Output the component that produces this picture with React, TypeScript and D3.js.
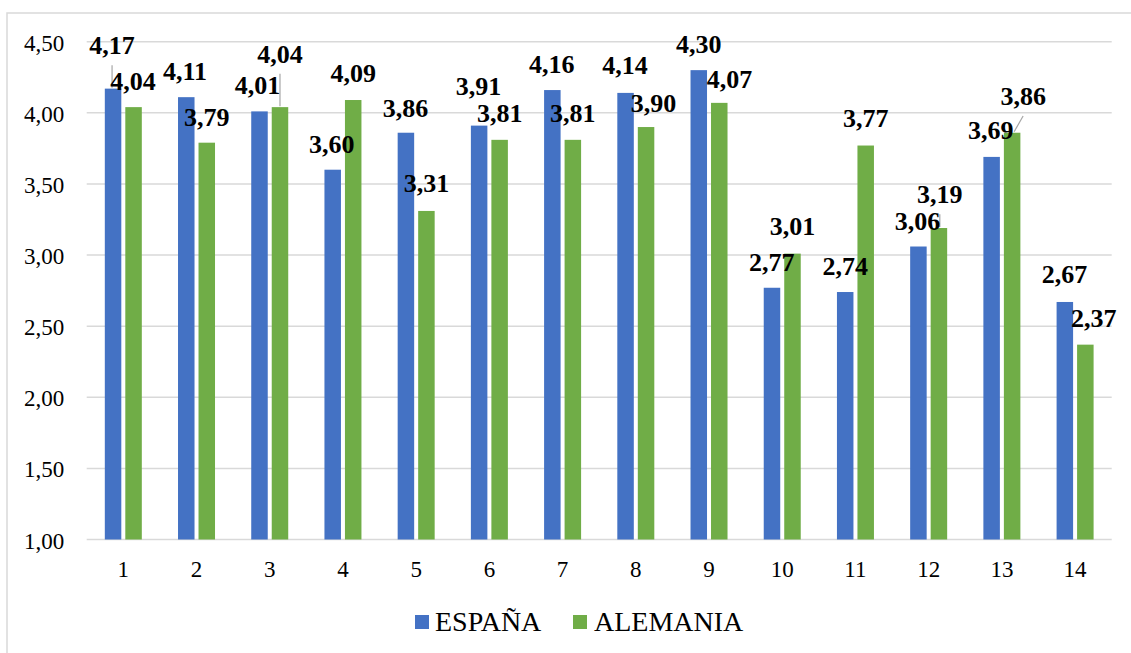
import React from "react";
import * as d3 from "d3";

// Survey item numbers on the category axis
const items = ["1", "2", "3", "4", "5", "6", "7", "8", "9", "10", "11", "12", "13", "14"];

// Mean scores per item
const espana = [4.17, 4.11, 4.01, 3.6, 3.86, 3.91, 4.16, 4.14, 4.3, 2.77, 2.74, 3.06, 3.69, 2.67];
const alemania = [4.04, 3.79, 4.04, 4.09, 3.31, 3.81, 3.81, 3.9, 4.07, 3.01, 3.77, 3.19, 3.86, 2.37];

const seriesNames = ["ESPAÑA", "ALEMANIA"];
const seriesColors = ["#4472C4", "#70AD47"];

// Value-axis ticks
const yTicks = [1, 1.5, 2, 2.5, 3, 3.5, 4, 4.5];

// Label placement nudges (dx, dy from the top-centre of each bar) and leader-line flags
const labelDx: number[][] = [
  [-1, -1.3, -2, -1, -0.5, -0.6, -0.7, -0.5, 0, -0.3, 0, -0.9, -0.8, -0.3],
  [-0.5, 0, 0, 0, 0, 0, 0, 7.5, 10.3, 0, 0, 0.9, 11, 8.3],
];
const labelDy: number[][] = [
  [-34.3, -17.2, -17.4, -17, -16, -30.6, -16.8, -18.6, -17.4, -17.1, -17, -16.5, -17.6, -18.7],
  [-17.1, -16.7, -44.4, -18.3, -18.6, -18.1, -18.1, -15.3, -15.2, -18.6, -18.2, -24.7, -27.7, -17.9],
];
const leaders: boolean[][] = [
  [true, false, false, false, false, false, false, false, false, false, false, false, false, false],
  [false, false, true, false, false, false, false, false, false, false, false, true, true, false],
];

const fmt = (v: number) => v.toFixed(2).replace(".", ",");

const W = 1131;
const H = 653;
const left = 86.7;
const right = 1111.7;
const top = 41.7;
const bottom = 539.5;

const SERIF = '"Liberation Serif"';

export default function App() {
  const x0 = d3.scaleBand<string>().domain(items).range([left, right]).padding(0);
  const groupHalf = 18.5;
  const x1 = d3
    .scaleBand<string>()
    .domain(seriesNames)
    .range([-groupHalf, groupHalf])
    .paddingInner(0.195)
    .paddingOuter(0);
  const y = d3.scaleLinear().domain([1, 4.5]).range([bottom, top]);

  const data = [espana, alemania];
  const txt = { fontFamily: SERIF };

  return (
    <svg
      width={W}
      height={H}
      style={{ position: "absolute", left: 0, top: 0, background: "#fff", fontFamily: SERIF }}
    >
      <rect x={0} y={0} width={W} height={H} fill="#fff" />
      {/* chart frame */}
      <rect x={7} y={13} width={1140} height={700} fill="none" stroke="#d9d9d9" strokeWidth={1.5} />

      {/* gridlines */}
      {yTicks.map((t) => (
        <line
          key={"g" + t}
          x1={left}
          x2={right}
          y1={y(t)}
          y2={y(t)}
          stroke="#d9d9d9"
          strokeWidth={1.5}
        />
      ))}

      {/* y tick labels */}
      {yTicks.map((t) => (
        <text key={"yt" + t} x={64.3} y={y(t) + 9} textAnchor="end" fontSize={23} fill="#000" style={txt}>
          {fmt(t)}
        </text>
      ))}

      {/* x tick labels */}
      {items.map((c) => (
        <text
          key={"xt" + c}
          x={(x0(c) as number) + x0.bandwidth() / 2}
          y={577}
          textAnchor="middle"
          fontSize={23}
          fill="#000"
          style={txt}
        >
          {c}
        </text>
      ))}

      {/* bars */}
      {data.map((vals, si) =>
        vals.map((v, i) => {
          const cx = (x0(items[i]) as number) + x0.bandwidth() / 2;
          const bx = cx + (x1(seriesNames[si]) as number);
          return (
            <rect
              key={`b${si}-${i}`}
              x={bx}
              y={y(v)}
              width={x1.bandwidth()}
              height={y(1) - y(v)}
              fill={seriesColors[si]}
            />
          );
        })
      )}

      {/* leader lines */}
      {data.map((vals, si) =>
        vals.map((v, i) => {
          if (!leaders[si][i]) return null;
          const cx = (x0(items[i]) as number) + x0.bandwidth() / 2;
          const barCx = cx + (x1(seriesNames[si]) as number) + x1.bandwidth() / 2;
          const lx = barCx + labelDx[si][i];
          const ly = y(v) + labelDy[si][i];
          return (
            <line
              key={`l${si}-${i}`}
              x1={lx}
              y1={ly + 11}
              x2={barCx + Math.min(labelDx[si][i], 2)}
              y2={y(v) - 1}
              stroke="#a6a6a6"
              strokeWidth={1.2}
            />
          );
        })
      )}

      {/* data labels */}
      {data.map((vals, si) =>
        vals.map((v, i) => {
          const cx = (x0(items[i]) as number) + x0.bandwidth() / 2;
          const barCx = cx + (x1(seriesNames[si]) as number) + x1.bandwidth() / 2;
          return (
            <text
              key={`t${si}-${i}`}
              x={barCx + labelDx[si][i]}
              y={y(v) + labelDy[si][i]}
              textAnchor="middle"
              fontSize={26}
              fontWeight="bold"
              fill="#000"
              style={txt}
            >
              {fmt(v)}
            </text>
          );
        })
      )}

      {/* legend */}
      <rect x={415} y={615} width={14} height={14} fill={seriesColors[0]} />
      <text x={435} y={631} fontSize={28} fill="#000" style={txt}>
        {seriesNames[0]}
      </text>
      <rect x={573} y={615} width={14} height={14} fill={seriesColors[1]} />
      <text x={594} y={631} fontSize={28} fill="#000" style={txt}>
        {seriesNames[1]}
      </text>
    </svg>
  );
}
